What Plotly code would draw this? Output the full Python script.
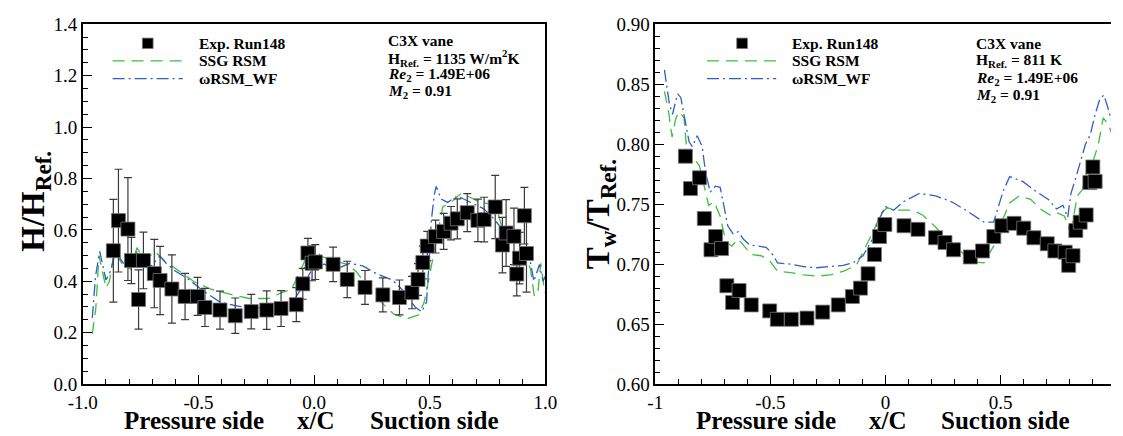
import plotly.graph_objects as go

# ---------------- data: left panel (H/H_Ref) ----------------
h_exp_x = [-0.868, -0.846, -0.805, -0.790, -0.759, -0.738, -0.691, -0.666, -0.615, -0.558,
           -0.504, -0.472, -0.407, -0.341, -0.272, -0.205, -0.143, -0.077, -0.049, -0.027,
           -0.009, 0.005, 0.082, 0.143, 0.220, 0.297, 0.369, 0.423, 0.449, 0.470,
           0.489, 0.525, 0.560, 0.592, 0.619, 0.662, 0.708, 0.735, 0.783, 0.814,
           0.830, 0.864, 0.876, 0.888, 0.909, 0.918]
h_exp_y = [0.519, 0.636, 0.603, 0.481, 0.329, 0.481, 0.430, 0.403, 0.370, 0.341,
           0.341, 0.298, 0.288, 0.266, 0.282, 0.288, 0.294, 0.309, 0.390, 0.510,
           0.470, 0.475, 0.466, 0.407, 0.376, 0.347, 0.337, 0.356, 0.407, 0.473,
           0.537, 0.574, 0.594, 0.626, 0.643, 0.667, 0.637, 0.640, 0.689, 0.541,
           0.588, 0.575, 0.428, 0.490, 0.655, 0.508]
h_exp_err = [0.20, 0.20, 0.20, 0.09, 0.115, 0.11, 0.133, 0.133, 0.133, 0.09,
             0.074, 0.074, 0.074, 0.069, 0.067, 0.075, 0.070, 0.066, 0.060, 0.057,
             0.068, 0.068, 0.067, 0.071, 0.066, 0.066, 0.068, 0.063, 0.062, 0.064,
             0.057, 0.064, 0.070, 0.065, 0.078, 0.074, 0.083, 0.087, 0.123, 0.108,
             0.130, 0.110, 0.085, 0.100, 0.110, 0.150]

h_wf_x = [-0.959, -0.945, -0.927, -0.912, -0.900, -0.880, -0.857, -0.840, -0.822, -0.800,
          -0.766, -0.735, -0.703, -0.667, -0.640, -0.604, -0.548, -0.478, -0.407, -0.337,
          -0.267, -0.196, -0.126, -0.098, -0.049, -0.013, 0.020, 0.043, 0.090, 0.155,
          0.210, 0.268, 0.338, 0.380, 0.410, 0.437, 0.465, 0.486, 0.496, 0.507,
          0.520, 0.528, 0.549, 0.577, 0.619, 0.676, 0.732, 0.770, 0.802, 0.830,
          0.854, 0.876, 0.893, 0.909, 0.930, 0.950, 0.974, 0.990, 1.000]
h_wf_y = [0.257, 0.420, 0.516, 0.450, 0.405, 0.440, 0.522, 0.490, 0.467, 0.460,
          0.514, 0.470, 0.460, 0.498, 0.470, 0.442, 0.411, 0.362, 0.319, 0.304,
          0.296, 0.298, 0.306, 0.312, 0.380, 0.440, 0.455, 0.467, 0.445, 0.470,
          0.460, 0.430, 0.405, 0.368, 0.330, 0.300, 0.281, 0.319, 0.467, 0.640,
          0.740, 0.769, 0.720, 0.707, 0.732, 0.707, 0.683, 0.650, 0.615, 0.590,
          0.600, 0.588, 0.540, 0.520, 0.500, 0.400, 0.465, 0.400, 0.420]

h_ssg_x = [-0.959, -0.944, -0.930, -0.915, -0.900, -0.885, -0.864, -0.845, -0.829, -0.794,
           -0.766, -0.731, -0.689, -0.646, -0.590, -0.520, -0.449, -0.365, -0.281, -0.196,
           -0.140, -0.098, -0.056, -0.020, -0.006, 0.029, 0.085, 0.141, 0.184, 0.240,
           0.296, 0.345, 0.402, 0.451, 0.476, 0.496, 0.518, 0.535, 0.556, 0.592,
           0.634, 0.676, 0.718, 0.760, 0.795, 0.830, 0.846, 0.876, 0.910, 0.935,
           0.952, 0.967, 0.980, 0.997]
h_ssg_y = [0.195, 0.294, 0.500, 0.430, 0.374, 0.400, 0.516, 0.490, 0.467, 0.448,
           0.531, 0.479, 0.516, 0.479, 0.442, 0.399, 0.370, 0.350, 0.333, 0.333,
           0.356, 0.368, 0.448, 0.522, 0.541, 0.498, 0.479, 0.467, 0.436, 0.368,
           0.313, 0.272, 0.254, 0.269, 0.319, 0.417, 0.510, 0.590, 0.689, 0.707,
           0.741, 0.726, 0.707, 0.701, 0.664, 0.553, 0.588, 0.539, 0.500, 0.450,
           0.342, 0.355, 0.470, 0.355]

# ---------------- data: right panel (Tw/T_Ref) ----------------
t_exp_x = [-0.869, -0.847, -0.808, -0.787, -0.758, -0.738, -0.712, -0.689, -0.664, -0.636,
           -0.583, -0.503, -0.470, -0.409, -0.341, -0.273, -0.205, -0.144, -0.109, -0.076,
           -0.048, -0.026, -0.003, 0.080, 0.141, 0.217, 0.258, 0.295, 0.368, 0.421,
           0.470, 0.505, 0.558, 0.600, 0.644, 0.702, 0.735, 0.780, 0.795, 0.814,
           0.826, 0.845, 0.871, 0.887, 0.900, 0.910]
t_exp_y = [0.790, 0.763, 0.772, 0.738, 0.712, 0.723, 0.713, 0.682, 0.668, 0.678,
           0.666, 0.661, 0.654, 0.654, 0.655, 0.660, 0.666, 0.673, 0.680, 0.692,
           0.708, 0.723, 0.733, 0.732, 0.729, 0.722, 0.718, 0.712, 0.706, 0.711,
           0.723, 0.732, 0.734, 0.730, 0.722, 0.717, 0.711, 0.710, 0.699, 0.707,
           0.728, 0.735, 0.741, 0.768, 0.781, 0.769]

t_wf_x = [-0.960, -0.939, -0.925, -0.903, -0.889, -0.868, -0.853, -0.839, -0.818, -0.796,
          -0.782, -0.761, -0.739, -0.718, -0.700, -0.685, -0.661, -0.640, -0.618, -0.590,
          -0.554, -0.519, -0.497, -0.469, -0.412, -0.355, -0.298, -0.241, -0.184, -0.141,
          -0.098, -0.056, -0.035, 0.000, 0.035, 0.077, 0.147, 0.217, 0.287, 0.357,
          0.427, 0.469, 0.511, 0.539, 0.595, 0.651, 0.707, 0.742, 0.770, 0.791,
          0.805, 0.826, 0.847, 0.868, 0.889, 0.910, 0.931, 0.948, 0.966, 0.980]
t_wf_y = [0.862, 0.834, 0.825, 0.842, 0.839, 0.817, 0.802, 0.798, 0.807, 0.798,
          0.777, 0.760, 0.765, 0.764, 0.745, 0.732, 0.725, 0.727, 0.721, 0.716,
          0.715, 0.714, 0.710, 0.701, 0.700, 0.698, 0.697, 0.698, 0.699, 0.701,
          0.707, 0.721, 0.735, 0.748, 0.745, 0.752, 0.759, 0.757, 0.752, 0.744,
          0.735, 0.735, 0.761, 0.773, 0.769, 0.761, 0.754, 0.746, 0.749, 0.739,
          0.759, 0.772, 0.786, 0.800, 0.808, 0.825, 0.838, 0.841, 0.830, 0.820]

t_ssg_x = [-0.960, -0.942, -0.927, -0.910, -0.896, -0.875, -0.860, -0.839, -0.808, -0.789,
           -0.768, -0.745, -0.718, -0.694, -0.668, -0.640, -0.611, -0.583, -0.540, -0.504,
           -0.469, -0.412, -0.355, -0.298, -0.241, -0.184, -0.127, -0.091, -0.049, -0.021,
           0.007, 0.049, 0.119, 0.161, 0.217, 0.259, 0.315, 0.371, 0.427, 0.469,
           0.504, 0.539, 0.581, 0.630, 0.672, 0.714, 0.742, 0.777, 0.798, 0.812,
           0.833, 0.854, 0.875, 0.903, 0.924, 0.945, 0.966, 0.980]
t_ssg_y = [0.844, 0.827, 0.806, 0.822, 0.827, 0.822, 0.788, 0.790, 0.782, 0.766,
           0.749, 0.752, 0.740, 0.719, 0.715, 0.721, 0.714, 0.708, 0.707, 0.703,
           0.694, 0.693, 0.691, 0.690, 0.691, 0.694, 0.699, 0.713, 0.729, 0.742,
           0.747, 0.745, 0.745, 0.741, 0.731, 0.722, 0.713, 0.702, 0.701, 0.715,
           0.735, 0.751, 0.757, 0.754, 0.746, 0.741, 0.743, 0.740, 0.729, 0.735,
           0.757, 0.762, 0.778, 0.787, 0.800, 0.822, 0.817, 0.810]

left_xticks = [-1.0, -0.5, 0.0, 0.5, 1.0]
left_xticklabels = ["-1.0", "-0.5", "0.0", "0.5", "1.0"]
right_xticks = [-1.0, -0.5, 0.0, 0.5]
right_xticklabels = ["-1", "-0.5", "0", "0.5"]

series_names = ["Exp. Run148", "SSG RSM", "\u03c9RSM_WF"]

# ---------------- style ----------------
W, H = 1123, 436
SERIF = "Liberation Serif"
GREEN = "#3cbf3c"
BLUE = "#2f5fc4"
GREEN_DASH = "12px,7px"
BLUE_DASH = "12px,4px,2px,4px"


def px(xp):
    return xp / W


def py(yp):
    return 1 - yp / H


fig = go.Figure()

# left panel
fig.add_trace(go.Scatter(x=h_ssg_x, y=h_ssg_y, mode="lines", name=series_names[1],
                         line=dict(color=GREEN, width=1.3, dash=GREEN_DASH),
                         xaxis="x", yaxis="y"))
fig.add_trace(go.Scatter(x=h_wf_x, y=h_wf_y, mode="lines", name=series_names[2],
                         line=dict(color=BLUE, width=1.3, dash=BLUE_DASH),
                         xaxis="x", yaxis="y"))
fig.add_trace(go.Scatter(x=h_exp_x, y=h_exp_y, mode="markers", name=series_names[0],
                         marker=dict(symbol="square", size=14, color="black",
                                     line=dict(color="#777777", width=0.8)),
                         error_y=dict(type="data", array=h_exp_err, visible=True,
                                      color="#3a3a3a", thickness=1.2, width=4),
                         xaxis="x", yaxis="y"))

# right panel
fig.add_trace(go.Scatter(x=t_ssg_x, y=t_ssg_y, mode="lines", name=series_names[1],
                         line=dict(color=GREEN, width=1.3, dash=GREEN_DASH),
                         xaxis="x2", yaxis="y2"))
fig.add_trace(go.Scatter(x=t_wf_x, y=t_wf_y, mode="lines", name=series_names[2],
                         line=dict(color=BLUE, width=1.3, dash=BLUE_DASH),
                         xaxis="x2", yaxis="y2"))
fig.add_trace(go.Scatter(x=t_exp_x, y=t_exp_y, mode="markers", name=series_names[0],
                         marker=dict(symbol="square", size=14, color="black",
                                     line=dict(color="#777777", width=0.8)),
                         xaxis="x2", yaxis="y2"))

tickfont = dict(family=SERIF, size=19, color="black")
common_axis = dict(showgrid=False, zeroline=False, showline=True, linecolor="black",
                   linewidth=1.5, ticks="inside", ticklen=9, tickwidth=1.2,
                   tickcolor="black", tickfont=tickfont)

y_top, y_bot = 15, 393
ydom = [py(y_bot), py(y_top)]

fig.update_layout(
    width=W, height=H, margin=dict(l=0, r=0, t=0, b=0),
    paper_bgcolor="white", plot_bgcolor="white", showlegend=False,
    xaxis=dict(domain=[px(69.5), px(543.5)], range=[-1, 1], tickmode="array",
               tickvals=left_xticks, ticktext=left_xticklabels, mirror=True,
               minor=dict(dtick=0.1, ticklen=5, ticks="inside", tickcolor="black"),
               anchor="y", **common_axis),
    yaxis=dict(domain=ydom, range=[0, 1.4], dtick=0.2, tickformat=".1f", mirror=True,
               minor=dict(dtick=0.05, ticklen=5, ticks="inside", tickcolor="black"),
               anchor="x", **common_axis),
    xaxis2=dict(domain=[px(656), 1.0], range=[-1, -1 + (W - 656) / 236.0],
                tickmode="array", tickvals=right_xticks, ticktext=right_xticklabels,
                mirror=True,
                minor=dict(dtick=0.1, ticklen=5, ticks="inside", tickcolor="black"),
                anchor="y2", **common_axis),
    yaxis2=dict(domain=ydom, range=[0.6, 0.9], dtick=0.05, tickformat=".2f", mirror=False,
                minor=dict(dtick=0.01, ticklen=5, ticks="inside", tickcolor="black"),
                anchor="x2", **common_axis),
)

annotations = []
title_font = dict(family=SERIF, size=25, color="black")
ytitle_font = dict(family=SERIF, size=33, color="black")
for xr in ("x", "x2"):
    for xpos, txt in ((-0.52, "<b>Pressure side</b>"), (0.01, "<b>x/C</b>"),
                      (0.52, "<b>Suction side</b>")):
        annotations.append(dict(x=xpos, y=0, xref=xr, yref="paper", text=txt,
                                showarrow=False, font=title_font, yshift=-11,
                                xanchor="center", yanchor="bottom"))

annotations.append(dict(x=px(21), y=py(201), xref="paper", yref="paper",
                        text="<b>H/H<sub>Ref.</sub></b>", textangle=-90, showarrow=False,
                        font=ytitle_font, xanchor="center", yanchor="middle"))
annotations.append(dict(x=px(600), y=py(215), xref="paper", yref="paper",
                        text="<b>T<sub>w</sub>/T<sub>Ref.</sub></b>", textangle=-90,
                        showarrow=False, font=ytitle_font, xanchor="center",
                        yanchor="middle"))

small_font = dict(family=SERIF, size=15.5, color="black")
shapes = []


def add_legend(x_sq, x_l0, x_l1, x_txt, rows):
    # square marker sample
    s = 5.5
    shapes.append(dict(type="rect", xref="paper", yref="paper",
                       x0=px(x_sq - s), x1=px(x_sq + s), y0=py(rows[0] + s), y1=py(rows[0] - s),
                       fillcolor="black", line=dict(color="#777777", width=0.8)))
    shapes.append(dict(type="line", xref="paper", yref="paper",
                       x0=px(x_l0), x1=px(x_l1), y0=py(rows[1]), y1=py(rows[1]),
                       line=dict(color=GREEN, width=1.3, dash=GREEN_DASH)))
    shapes.append(dict(type="line", xref="paper", yref="paper",
                       x0=px(x_l0), x1=px(x_l1), y0=py(rows[2]), y1=py(rows[2]),
                       line=dict(color=BLUE, width=1.3, dash=BLUE_DASH)))
    for r, name in zip(rows, series_names):
        annotations.append(dict(x=px(x_txt), y=py(r), xref="paper", yref="paper",
                                text="<b>" + name + "</b>", showarrow=False, font=small_font,
                                xanchor="left", yanchor="middle"))


def add_info(x_txt, href, rows):
    texts = ["<b>C3X vane</b>",
             "<b>H<sub>Ref.</sub> = " + href + "</b>",
             "<b><i>Re</i><sub>2</sub> = 1.49E+06</b>",
             "<b><i>M</i><sub>2</sub> = 0.91</b>"]
    for r, t in zip(rows, texts):
        annotations.append(dict(x=px(x_txt), y=py(r), xref="paper", yref="paper",
                                text=t, showarrow=False, font=small_font,
                                xanchor="left", yanchor="middle"))


add_legend(136, 100, 172, 186, [35, 53.5, 72])
add_info(380, "1135 W/m<sup>2</sup>K", [32, 50, 68, 86])
add_legend(745, 709, 780, 794, [35, 53.5, 72])
add_info(983, "811 K", [35.5, 53.5, 72, 89.5])

fig.update_layout(annotations=annotations, shapes=shapes)
fig.write_html("out.html")
